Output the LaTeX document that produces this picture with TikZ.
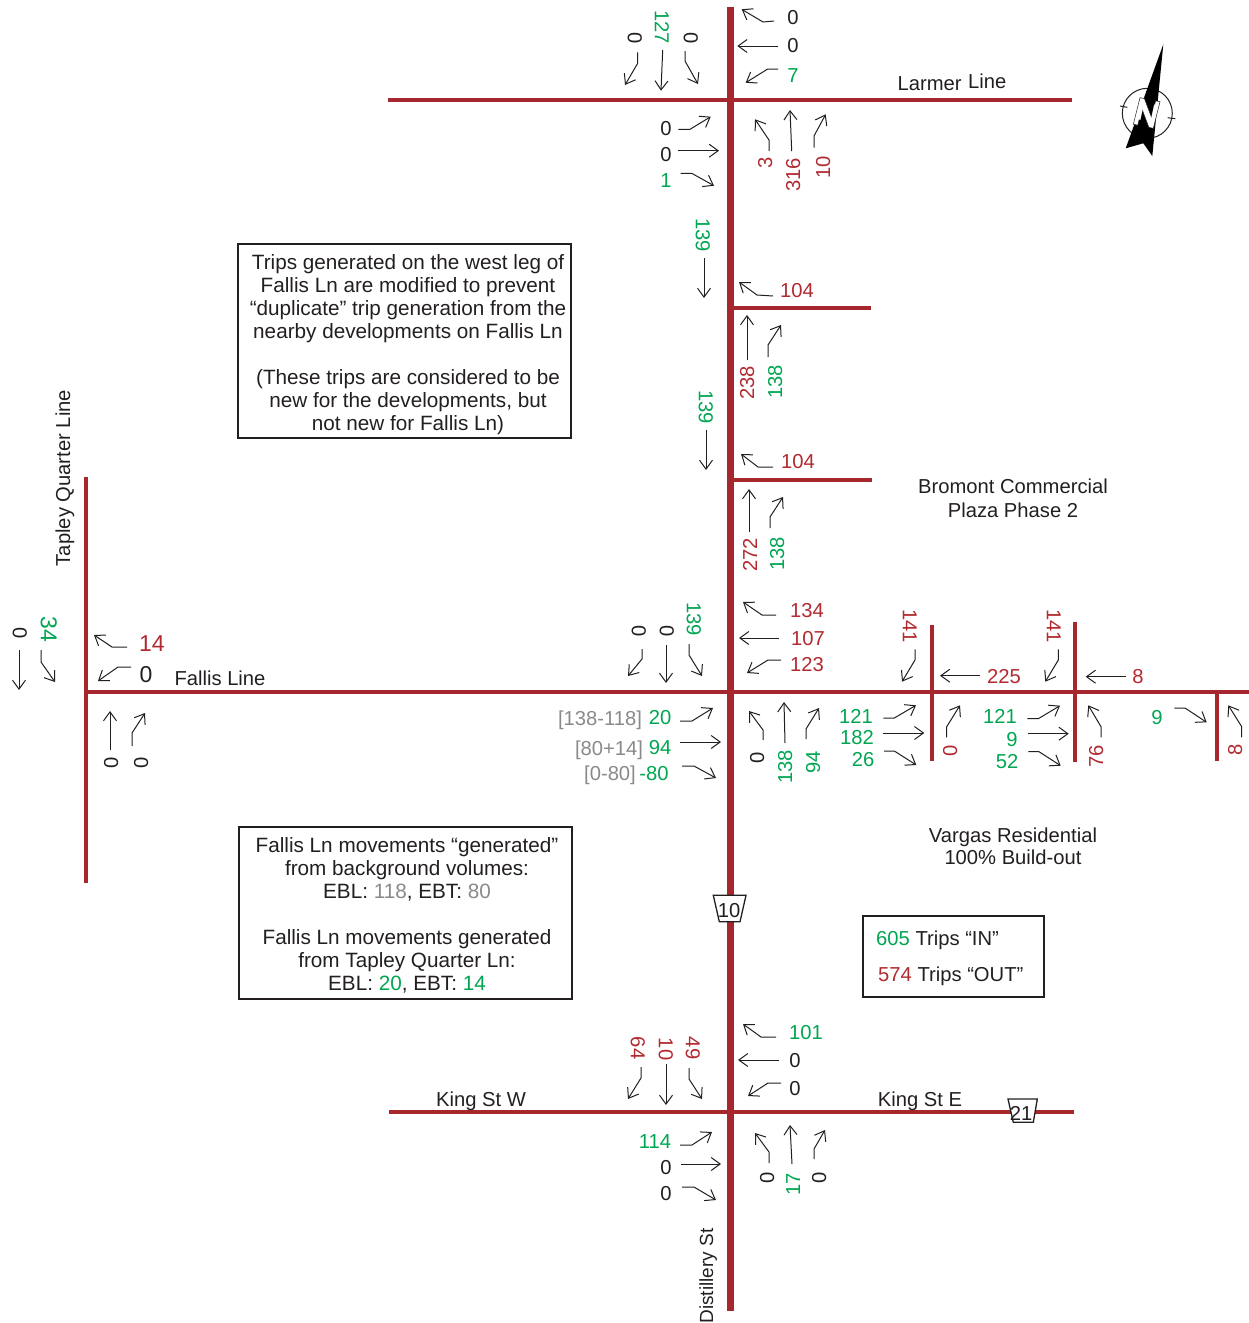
\documentclass[tikz,border=0pt]{standalone}
\usepackage{fontspec}
\setmainfont{Liberation Sans}
\usetikzlibrary{arrows.meta}
\definecolor{rd}{HTML}{A6272D}
\definecolor{tred}{HTML}{B22A30}
\definecolor{gn}{HTML}{00A651}
\definecolor{gy}{HTML}{8A8A8A}
\definecolor{ink}{HTML}{231F20}
\tikzset{
  road/.style={draw=rd,line width=4pt},
  spine/.style={draw=rd,line width=7pt},
  mv/.style={draw=ink,line width=1pt,line join=miter,-{Straight Barb[length=9pt,width=13pt,line width=1pt]}},
  lb/.style={inner sep=0pt,text height=14.4pt,text depth=0pt,font=\fontsize{20.2}{24}\selectfont,text=ink},
  big/.style={lb,text height=16.5pt,font=\fontsize{23}{24}\selectfont},
  box/.style={draw=ink,line width=1.4pt,fill=white,inner sep=0pt},
  boxtext/.style={inner sep=0pt,align=center,font=\fontsize{20.7}{23}\selectfont,text=ink},
  shield/.style={draw=ink,line width=1.3pt,fill=white},
}
\newcommand{\lab}[4][ink]{\node[lb,text=#1] at (#2,#3) {#4};}
\newcommand{\dn}[4][ink]{\node[lb,text=#1,rotate=-90,yshift=2pt] at (#2,#3) {#4};}
\newcommand{\up}[4][ink]{\node[lb,text=#1,rotate=90] at (#2,#3) {#4};}
\begin{document}
\begin{tikzpicture}[x=1pt,y=-1pt]
\useasboundingbox (0,0) rectangle (1249,1323);
% roads
\draw[road] (388,100) -- (1072,100);
\draw[road] (85,692) -- (1249,692);
\draw[road] (389,1112) -- (1074,1112);
\draw[road] (730,307.5) -- (871,307.5);
\draw[road] (730,480) -- (872,480);
\draw[road] (85.5,477) -- (85.5,883);
\draw[road] (932,625) -- (932,761);
\draw[road] (1075.3,622) -- (1075.3,762);
\draw[road] (1217,692) -- (1217,761);
\draw[spine] (730,7) -- (730,1311);
% top intersection
\dn[gn]{660}{27}{127}\dn{633}{38}{0}\dn{689}{38}{0}
\draw[mv] (637.7,52.3) -- (637.7,63.3) -- (625,85);
\draw[mv] (662.7,50) -- (661,90.7);
\draw[mv] (685,51) -- (685,61) -- (698,84);
\lab{793}{17}{0}\lab{793}{45}{0}\lab[gn]{793}{75}{7}
\draw[mv] (774,21) -- (763,22) -- (741.7,9.3);
\draw[mv] (777.7,46) -- (737.3,46);
\draw[mv] (778,69) -- (767.7,69) -- (745.7,82.7);
\lab{666}{128}{0}\lab{666}{154}{0}\lab[gn]{666}{180}{1}
\draw[mv] (678.3,129.3) -- (690,129.3) -- (710.7,116.7);
\draw[mv] (678.3,150.7) -- (719,150.7);
\draw[mv] (680.7,173.3) -- (691.7,173.3) -- (714,185.7);
\up[tred]{765}{163}{3}\up[tred]{793}{175}{316}\up[tred]{823}{167}{10}
\draw[mv] (769,151) -- (769,140) -- (755,119.3);
\draw[mv] (791.7,151) -- (790,110);
\draw[mv] (814,147.7) -- (814,136) -- (825.7,114.3);
\lab{952}{83}{Larmer\hspace{1pt} \raisebox{2pt}{Line}}
% north arrow
\draw[ink,line width=1pt] (1147.3,113.3) circle (25);
\draw[ink,line width=1pt] (1120,106) -- (1127.3,107.3) (1167.7,117.7) -- (1175.3,118.7);
\fill[black] (1163.3,44.3) -- (1152.3,156) -- (1143.3,143.3) -- (1125.7,148.3) -- cycle;
\begin{scope}[shift={(1133.3,124.3)},x={(20pt,-4pt)},y={(6.7pt,26.6pt)}]
\draw[ink,line width=.5pt,fill=white] (0,0) -- (.22,0) -- (.22,.62) -- (.78,0) -- (1,0) -- (1,1) -- (.78,1) -- (.78,.38) -- (.22,1) -- (0,1) -- cycle;
\end{scope}
\node[inner sep=0pt,text=white,rotate=-12,font=\fontsize{26}{26}\selectfont] at (1147.5,113) {N};
% middle accesses
\dn[gn]{701}{235}{139}\draw[mv] (704,258) -- (704,298);
\lab[tred]{797}{290}{104}\draw[mv] (773,296) -- (757,295) -- (739,282);
\up[tred]{747}{383}{238}\draw[mv] (747,360) -- (747,315);
\up[gn]{775}{382}{138}\draw[mv] (768,357) -- (768,345) -- (781,325);
\dn[gn]{704}{407}{139}\draw[mv] (706,430) -- (706,470);
\lab[tred]{798}{461}{104}\draw[mv] (773,467) -- (758,467) -- (741,454);
\up[tred]{750}{555}{272}\draw[mv] (749,532) -- (749,489);
\up[gn]{777}{554}{138}\draw[mv] (770,528) -- (770,517) -- (783,497);
\lab{1013}{486}{Bromont Commercial}\lab{1013}{510}{Plaza Phase 2}
% box 1
\node[box,minimum width=333pt,minimum height=194pt] at (404.5,341) {};
\node[boxtext] at (408,345) {Trips generated on the west leg of\\Fallis Ln are modified to prevent\\“duplicate” trip generation from the\\nearby developments on Fallis Ln\\[23pt](These trips are considered to be\\new for the developments, but\\not new for Fallis Ln)};
% Fallis / Distillery
\dn[gn]{692}{619}{139}\dn{637}{631}{0}\dn{665}{631}{0}
\draw[mv] (642,649) -- (642,659) -- (628,676);
\draw[mv] (666,645) -- (666,683);
\draw[mv] (689,644) -- (689,655) -- (702,676);
\lab[tred]{807}{610}{134}\draw[mv] (776,615) -- (762,615) -- (743,602);
\lab[tred]{808}{638}{107}\draw[mv] (779,638) -- (739,638);
\lab[tred]{807}{664}{123}\draw[mv] (781,660) -- (768,660) -- (747,673);
\lab[gy]{600}{718}{[138-118]}\lab[gn]{660}{717}{20}
\draw[mv] (680,721) -- (692,721) -- (713,708);
\lab[gy]{609}{748}{[80+14]}\lab[gn]{660}{747}{94}
\draw[mv] (680,742) -- (721,742);
\lab[gy]{610}{773}{[0-80]}\lab[gn]{654}{773}{-80}
\draw[mv] (682,766) -- (694,766) -- (716,778);
\up{757}{758}{0}\up[gn]{785}{767}{138}\up[gn]{813}{762}{94}
\draw[mv] (763,740) -- (763,730) -- (749,711);
\draw[mv] (785,743) -- (784,702);
\draw[mv] (806,739) -- (806,729) -- (819,708);
% east
\dn[tred]{908}{626}{141}\draw[mv] (915,649.3) -- (915,660) -- (902,681.7);
\lab[tred]{1004}{676}{225}\draw[mv] (980,675.7) -- (940,675.7);
\dn[tred]{1052}{626}{141}\draw[mv] (1058.3,649.3) -- (1058.3,660) -- (1045.3,681.7);
\lab[tred]{1138}{676}{8}\draw[mv] (1126,676.7) -- (1085.7,676.7);
\lab[gn]{856}{716}{121}\draw[mv] (883.3,718) -- (894.3,718) -- (916,705.3);
\lab[gn]{857}{737}{182}\draw[mv] (883.3,733) -- (924.3,733);
\lab[gn]{863}{759}{26}\draw[mv] (884,751) -- (894.3,751) -- (916.3,765);
\up[tred]{950}{751}{0}\draw[mv] (946.7,737.3) -- (946.7,726.7) -- (960,705.3);
\lab[gn]{1000}{716}{121}\draw[mv] (1027.3,718.7) -- (1038.3,718.7) -- (1060,705.7);
\lab[gn]{1012}{739}{9}\draw[mv] (1028,733.7) -- (1068.7,733.7);
\lab[gn]{1007}{761}{52}\draw[mv] (1028.3,751.7) -- (1039,751.7) -- (1060.7,765.7);
\up[tred]{1096}{756}{76}\draw[mv] (1101,737.3) -- (1101,726.7) -- (1088.3,705.3);
\lab[gn]{1157}{717}{9}\draw[mv] (1174.3,708) -- (1185,708) -- (1206.7,722.3);
\up[tred]{1235}{750}{8}\draw[mv] (1241.7,737.3) -- (1241.7,726.7) -- (1228.3,705.3);
% west
\up{63}{478}{Tapley Quarter Line}
\dn{18}{633}{0}\node[big,text=gn,rotate=-90,yshift=2pt] at (47,629) {34};
\draw[mv] (19,650) -- (19,690);
\draw[mv] (41,650) -- (41,662) -- (55,682);
\node[big,text=tred] at (152,643) {14};
\draw[mv] (127,647) -- (112,647) -- (94,635);
\node[big] at (146,674) {0};
\draw[mv] (131,667) -- (118,667) -- (98,681);
\lab{220}{678}{Fallis Line}
\draw[mv] (110,750) -- (110,711);
\draw[mv] (132,746) -- (132,733) -- (145,713);
\up{111}{763}{0}\up{141}{763}{0}
% box 2, notes
\node[box,minimum width=333pt,minimum height=172pt] at (405.5,913) {};
\node[boxtext] at (407,915) {Fallis Ln movements “generated”\\from background volumes:\\EBL: \textcolor{gy}{118}, EBT: \textcolor{gy}{80}\\[23pt]Fallis Ln movements generated\\from Tapley Quarter Ln:\\EBL: \textcolor{gn}{20}, EBT: \textcolor{gn}{14}};
\lab{1013}{835}{Vargas Residential}\lab{1013}{857}{100\% Build-out}
\node[box,minimum width=181pt,minimum height=81pt] at (953.5,956.5) {};
\node[lb,anchor=west] at (876,938) {\textcolor{gn}{605} Trips “IN”};
\node[lb,anchor=west] at (878,974) {\textcolor{tred}{574} Trips “OUT”};
% shields
\draw[shield] (713.3,895.3) -- (746,895.3) -- (740,921.7) -- (719.3,921.7) -- cycle;
\node[lb] at (729,910) {10};
\draw[shield] (1008,1099) -- (1037.3,1099) -- (1033.3,1122.3) -- (1013.3,1122.3) -- cycle;
\node[lb] at (1021,1113) {21};
% King
\dn[tred]{636}{1048}{64}\dn[tred]{664}{1049}{10}\dn[tred]{691}{1048}{49}
\draw[mv] (641,1067) -- (641,1078) -- (628,1099);
\draw[mv] (666,1064) -- (666,1105);
\draw[mv] (689,1068) -- (689,1079) -- (702,1099);
\lab[gn]{806}{1032}{101}\draw[mv] (776,1037) -- (761,1037) -- (743,1024);
\lab{795}{1060}{0}\draw[mv] (779,1060) -- (738,1060);
\lab{795}{1088}{0}\draw[mv] (781,1083) -- (768,1083) -- (748,1096);
\lab[gn]{655}{1141}{114}\draw[mv] (680,1145) -- (692,1145) -- (712,1132);
\lab{666}{1167}{0}\draw[mv] (681,1164) -- (721,1164);
\lab{666}{1193}{0}\draw[mv] (682,1187) -- (694,1187) -- (716,1200);
\up{767}{1178}{0}\draw[mv] (769,1163) -- (769,1152) -- (755,1133);
\up[gn]{793}{1184}{17}\draw[mv] (792,1164) -- (790,1125);
\up{819}{1178}{0}\draw[mv] (814,1159) -- (814,1149) -- (825,1130);
\lab{481}{1099}{King St W}\lab{920}{1099}{King St E}
\node[lb,rotate=90,font=\fontsize{19}{24}\selectfont] at (706,1276) {Distillery St};
\end{tikzpicture}
\end{document}
